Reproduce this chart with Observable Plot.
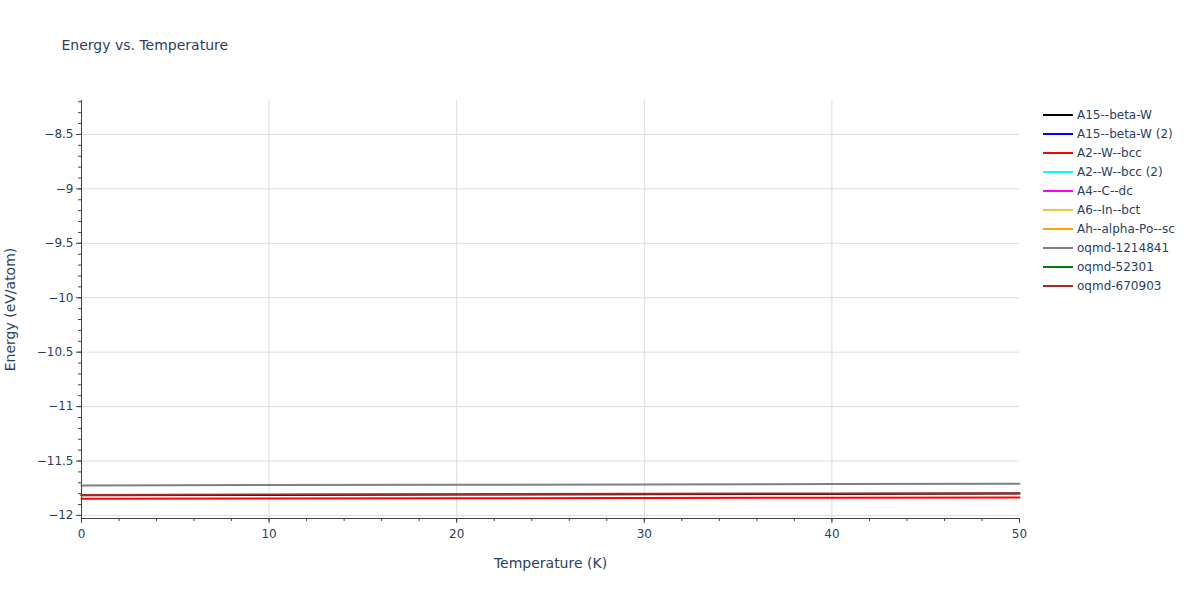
<!DOCTYPE html>
<html>
<head>
<meta charset="utf-8">
<script src="https://cdn.jsdelivr.net/npm/d3@7"></script>
<script src="https://cdn.jsdelivr.net/npm/@observablehq/plot@0.6"></script>
<style>
  html, body { margin: 0; padding: 0; background: #fff; }
  #wrap { position: relative; width: 1200px; height: 600px; font-family: "DejaVu Sans", Verdana, sans-serif; }
  #legend { position: absolute; left: 1043px; top: 105px; font-size: 12px; color: #2a3f5f; }
  .item { height: 19px; display: flex; align-items: center; }
  .item svg { margin-right: 4px; }
</style>
</head>
<body>
<div id="wrap"><div id="legend"></div></div>
<script>
const seriesNames = ["A15--beta-W", "A15--beta-W (2)", "A2--W--bcc", "A2--W--bcc (2)", "A4--C--dc", "A6--In--bct", "Ah--alpha-Po--sc", "oqmd-1214841", "oqmd-52301", "oqmd-670903"];
const seriesColors = ["black", "blue", "red", "cyan", "magenta", "#f0c83c", "orange", "gray", "green", "brown"];
const temperatures = [0, 10, 20, 30, 40, 50];
// Series that are not visible in the reference (hidden under others) are left empty.
const energyA15 = [-11.815, -11.812, -11.808, -11.805, -11.802, -11.799];
const energyA15b = [];
const energyA2 = [-11.847, -11.845, -11.842, -11.840, -11.837, -11.835];
const energyA2b = [];
const energyA4 = [];
const energyA6 = [];
const energyAh = [];
const energyOq1214841 = [-11.724, -11.721, -11.718, -11.715, -11.712, -11.709];
const energyOq52301 = [];
const energyOq670903 = [-11.811, -11.808, -11.805, -11.801, -11.798, -11.795];
const seriesEnergies = [energyA15, energyA15b, energyA2, energyA2b, energyA4, energyA6, energyAh, energyOq1214841, energyOq52301, energyOq670903];
const xTicks = [0, 10, 20, 30, 40, 50];
const xGrid = [10, 20, 30, 40];
const xMinor = d3.range(0, 50.001, 2);
const yTicks = [-12, -11.5, -11, -10.5, -10, -9.5, -9, -8.5];
const yMinor = d3.range(-120, -81).map(v => v / 10);
const xDomain = [0, 50];
const yDomain = [-12.028, -8.188];

const rows = [];
seriesNames.forEach((name, i) => {
  seriesEnergies[i].forEach((e, j) => rows.push({series: name, T: temperatures[j], E: e}));
});

const fmt = v => String(v).replace("-", "\u2212");
const textColor = "#2a3f5f";
const chart = Plot.plot({
  width: 1200,
  height: 600,
  marginLeft: 81,
  marginRight: 181,
  marginTop: 100,
  marginBottom: 82,
  style: {fontFamily: "'DejaVu Sans', Verdana, sans-serif", fontSize: "12px", background: "white"},
  x: {domain: xDomain, label: null},
  y: {domain: yDomain, label: null},
  color: {domain: seriesNames, range: seriesColors},
  marks: [
    Plot.gridX(xGrid, {stroke: "#dcdcdc", strokeOpacity: 1}),
    Plot.gridY(yTicks, {stroke: "#dcdcdc", strokeOpacity: 1}),
    Plot.lineY(rows, {x: "T", y: "E", z: "series", stroke: "series", strokeWidth: 2}),
    Plot.ruleX([xDomain[0]], {stroke: "#444", strokeWidth: 1}),
    Plot.ruleY([yDomain[0]], {stroke: "#444", strokeWidth: 1}),
    Plot.axisX(xMinor, {tickSize: 3, text: null, stroke: "#444"}),
    Plot.axisX(xTicks, {tickSize: 5, tickPadding: 6, stroke: "#444", fill: textColor, label: null, tickFormat: fmt}),
    Plot.axisY(yMinor, {tickSize: 3, text: null, stroke: "#444"}),
    Plot.axisY(yTicks, {tickSize: 5, tickPadding: 3, stroke: "#444", fill: textColor, label: null, tickFormat: fmt}),
    Plot.text(["Energy vs. Temperature"], {frameAnchor: "top-left", dx: -20, dy: -55, textAnchor: "start", lineAnchor: "middle", fontSize: 14, fill: textColor}),
    Plot.text(["Temperature (K)"], {frameAnchor: "bottom", dy: 45, lineAnchor: "middle", fontSize: 14, fill: textColor}),
    Plot.text(["Energy (eV/atom)"], {frameAnchor: "left", dx: -71, rotate: -90, textAnchor: "middle", lineAnchor: "middle", fontSize: 14, fill: textColor})
  ]
});
document.getElementById("wrap").prepend(chart);

const legend = document.getElementById("legend");
seriesNames.forEach((name, i) => {
  const div = document.createElement("div");
  div.className = "item";
  div.innerHTML = `<svg width="30" height="4"><line x1="0" x2="30" y1="2" y2="2" stroke="${seriesColors[i]}" stroke-width="2"/></svg><span>${name}</span>`;
  legend.appendChild(div);
});
</script>
</body>
</html>
